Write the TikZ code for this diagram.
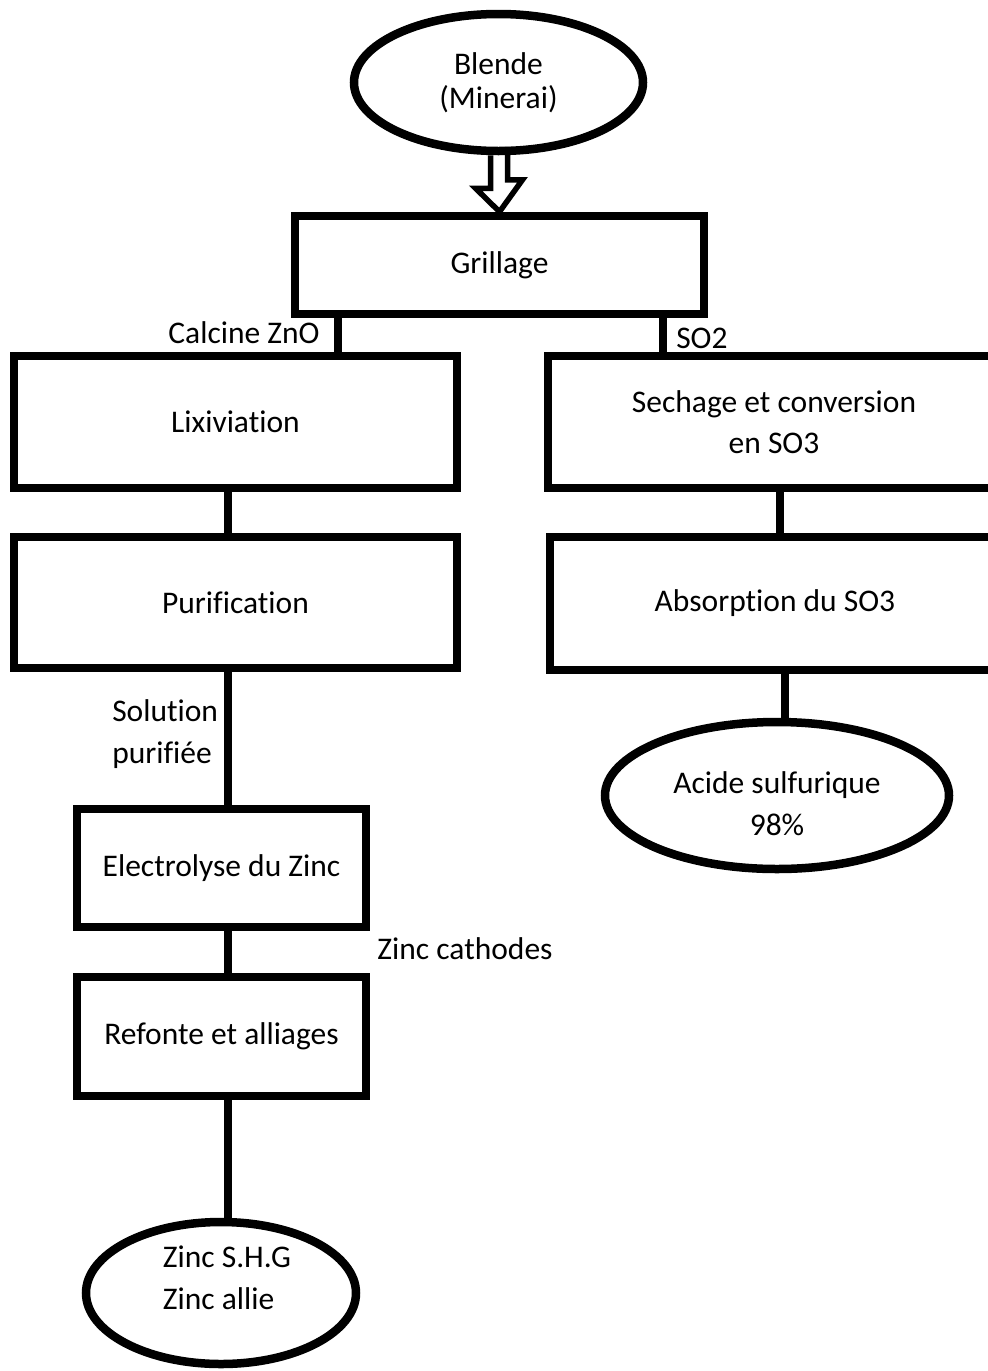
\documentclass[tikz,border=0pt]{standalone}
\usepackage{fontspec}
\setmainfont{Carlito}[Ligatures=NoCommon]
\usetikzlibrary{shapes.geometric}

\begin{document}
\begin{tikzpicture}[x=1pt ,y=-1pt ,line width=8.5pt ,
font=\fontsize{31.5}{41.5}\selectfont ,
box/.style ={rectangle ,draw ,inner sep=0pt ,align=center},
oval/.style ={ellipse ,draw ,inner sep=0pt ,align=center},
lbl/.style ={inner sep=0pt ,align=left}
]
\useasboundingbox (0,0) rectangle (988,1371);
\node[oval ,minimum width=289 ,minimum height=137] (blende) at (498.5,82.5) {Blende\\[-7pt](Minerai)};
\node[box ,minimum width=409 ,minimum height=98] (grill) at (499.5,265) {Grillage};
% branche zinc
\node[box ,minimum width=443 ,minimum height=132] (lix) at (235.5,422) {Lixiviation};
\node[box ,minimum width=443 ,minimum height=131] (pur) at (235.5,602.5) {Purification};
\node[box ,minimum width=289 ,minimum height=118] (elec) at (221.5,868) {Electrolyse du Zinc};
\node[box ,minimum width=289 ,minimum height=119] (refonte) at (221.5,1036.5) {Refonte et alliages};
\node[oval ,minimum width=270 ,minimum height=142 ,
    label={[lbl ,xshift=6 ,yshift=15]center:Zinc S.H.G\\Zinc allie}] (zinc) at (221,1293) {};
% branche acide
\node[box ,minimum width=452 ,minimum height=132] (sech) at (774,422) {Sechage et conversion\\en SO3};
\node[box ,minimum width=450 ,minimum height=133] (absorp) at (775,603.5) {Absorption du SO3};
\node[oval ,minimum width=344 ,minimum height=147 ,
    label={[lbl ,align=center ,yshift=-8]center:Acide sulfurique\\98\%}] (acide) at (777,795.5) {};
% colonnes des liaisons
\coordinate (cZno) at (338,0);
\coordinate (cSo2) at (663,0);
\coordinate (cZn) at (228,0);
\coordinate (cSo3) at (780,0);
\coordinate (cAc) at (785,0);
\draw[line width=5.5pt ,line join=miter] (blende.south) ++(-8,0) -- ++(0,33) -- ++(-15,0)
    -- (grill.north) -- ++(23,-32) -- ++(-15,0) -- ++(0,-33);
\draw (cZno |- grill.south) -- (cZno |- lix.north);
\draw (cSo2 |- grill.south) -- (cSo2 |- sech.north);
\draw (cZn |- lix.south) -- (cZn |- pur.north);
\draw (cZn |- pur.south) -- (cZn |- elec.north);
\draw (cZn |- elec.south) -- (cZn |- refonte.north);
\draw (cZn |- refonte.south) -- (cZn |- zinc.north);
\draw (cSo3 |- sech.south) -- (cSo3 |- absorp.north);
\draw (cAc |- absorp.south) -- (cAc |- acide.north);
% etiquettes
\node[lbl] (zno) at (244,333) {Calcine ZnO};
\node[lbl ,anchor=west] (so2) at (672,338) {SO2};
\node[lbl ,anchor=west] (sol) at (108,734) {Solution\\purifiée};
\node[lbl] (cath) at (465,949) {Zinc cathodes};
\end{tikzpicture}
\end{document}
